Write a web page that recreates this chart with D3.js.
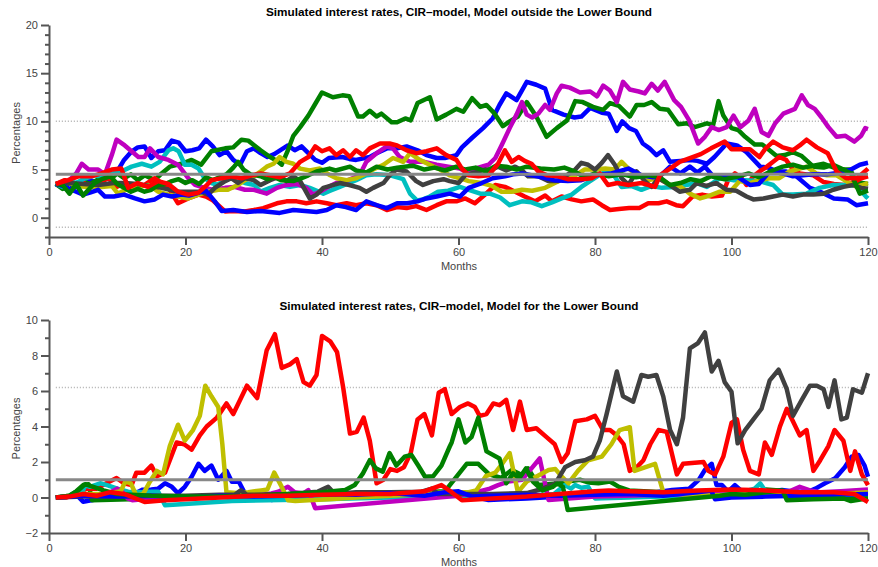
<!DOCTYPE html>
<html>
<head>
<meta charset="utf-8">
<title>Simulated interest rates, CIR-model</title>
<script src="https://d3js.org/d3.v7.min.js"></script>
<style>
body { margin: 0; background: #fff; font-family: "Liberation Sans", Arial, sans-serif; }
.axis path, .axis line { stroke: #555; stroke-width: 2; }
.axis text { fill: #444; font-size: 11px; font-family: "Liberation Sans", Arial, sans-serif; }
.title { font-size: 11px; font-weight: bold; fill: #000; }
.lbl { font-size: 11px; fill: #444; }
</style>
</head>
<body>
<script>
// ---- data: [month, percent] ----
// top panel: model outside the lower bound
var topBlueA = [[1,3.5],[2,3.1],[3,2.9],[4,3.6],[5,3.3],[6,3.9],[7,3.7],[8,4.3],[9,4.2],[10,4.8],[11,6.0],[12,6.8],[13,7.3],[14,7.4],[15,6.2],[16,6.9],[17,7.0],[18,8.0],[19,7.8],[20,6.9],[21,7.0],[22,7.2],[23,8.1],[24,7.4],[25,6.5],[26,6.9],[27,6.0],[28,5.5],[29,6.9],[30,7.2],[31,6.7],[32,6.3],[33,6.6],[35,7.5],[36,7.0],[37,7.4],[39,6.0],[40,5.7],[41,6.2],[43,6.3],[44,6.1],[45,6.0],[47,6.3],[48,6.7],[49.5,7.2],[51,7.2],[52.4,7.4],[54,7.0],[55.3,6.5],[56.8,6.2],[58,6.2],[59.7,6.5],[60.5,7.3],[62,8.3],[63.6,9.3],[65,10.3],[66,11.7],[67,12.9],[68.5,12.2],[70,14.1],[71.4,13.8],[72.7,13.4],[73.7,11.2],[75.4,10.7],[77,10.4],[78,10.5],[79.3,11.4],[81,10.9],[82,10.8],[83.2,9.0],[84,10.0],[85,9.3],[86,9.0],[87,7.7],[88,7.2],[89,6.5],[90,7.0],[91,5.8],[92.5,5.9],[94,6.0],[95,5.9],[96.4,5.6],[97.5,6.3],[99.3,7.7],[100.8,7.5],[102.2,6.8],[104.2,5.3],[105.4,5.2],[106.6,4.8],[108,4.8],[109.5,4.3],[111.5,3.1],[113,2.7],[115,2.0],[117,1.9],[118.3,1.3],[120,1.5]];
var topGreenA = [[1,3.5],[2,3.0],[3,3.6],[4,3.2],[5,3.8],[6,3.5],[7,3.9],[8,4.2],[9,4.0],[10,4.6],[11,4.1],[12,4.5],[13,3.9],[14,4.4],[15.5,3.9],[16.5,4.6],[17.7,5.3],[19.4,5.6],[20.9,6.0],[22.3,5.5],[23.8,6.9],[25.8,7.2],[27,7.3],[28.2,8.1],[29.2,8.0],[30.1,7.5],[31,7.0],[32.4,6.3],[33.4,5.9],[34.1,5.5],[35,7.0],[35.8,8.5],[36.8,9.4],[38,10.6],[39,11.8],[40,13.0],[41.6,12.5],[43,12.7],[44,12.6],[45.3,10.5],[46,10.5],[47,11.1],[48,10.5],[48.7,10.8],[50.2,9.9],[51,9.9],[52.2,10.3],[53,10.1],[54,11.9],[55.8,12.5],[56.8,10.2],[58.2,10.7],[59.7,11.3],[60.7,11.0],[62,12.4],[63.2,11.5],[64.1,11.7],[65.3,10.8],[66.5,9.5],[67.5,10.0],[68.7,10.5],[70,12.0],[71.4,10.5],[72.9,8.4],[74.4,9.3],[75.9,10.1],[77.1,12.1],[78.2,12.0],[79.7,11.5],[81.2,11.2],[82.2,11.9],[83.5,11.6],[85.1,10.5],[86.1,11.7],[87.2,11.7],[88.3,12.0],[89.5,11.3],[90.7,11.2],[92.2,9.7],[93.5,9.8],[94.6,9.4],[96.4,9.8],[97.3,9.6],[98.1,12.1],[98.8,10.6],[100,9.3],[101,9.1],[102,8.4],[103.4,7.6],[104.5,7.6],[105.4,7.1],[106.6,6.4],[107.8,6.5],[109,6.8],[110.3,6.4],[112,5.3],[113.5,5.2],[114.9,5.5],[116.4,5.0],[117.4,5.0],[118.3,3.7],[120,3.5]];
var topRedA = [[1,3.5],[2.3,3.9],[3.8,3.4],[5,3.7],[5.8,3.2],[7,3.5],[8.7,4.1],[9.9,3.2],[11,3.5],[12.5,3.0],[14,3.4],[15.5,4.1],[16.5,3.6],[17.5,3.1],[18.9,1.5],[20.4,2.0],[21.9,2.4],[23,2.2],[24,1.8],[24.8,1.3],[25.8,0.65],[27,0.7],[28.7,0.65],[30,0.8],[31.4,1.0],[33.4,1.5],[34.8,1.7],[36.3,1.7],[37.7,1.5],[39.2,1.7],[40.7,1.5],[42.1,1.3],[43.6,1.5],[45,1.3],[46.5,1.5],[48,1.3],[49.5,0.8],[51,1.1],[52.4,1.0],[53.8,1.2],[55.3,0.8],[56.8,1.3],[58.2,1.7],[59.7,1.7],[61,2.0],[62.4,1.5],[63.9,2.4],[65.4,3.4],[66.8,3.2],[68.3,2.7],[69.7,2.2],[71.2,1.7],[72.7,2.3],[73.7,1.7],[75.1,2.2],[76.6,1.9],[78,1.7],[79.7,1.9],[81,1.3],[82.2,0.8],[83.5,0.9],[85,1.0],[86.5,1.0],[87.8,1.5],[89.3,1.5],[90.5,1.7],[91.9,1.3],[92.9,1.2],[94.3,2.2],[95.7,2.4],[97.1,2.2],[98.6,2.3],[99.5,3.9],[100.5,4.6],[101.5,4.1],[102.2,3.4],[103.2,4.3],[104.1,4.8],[105,5.2],[106.1,5.8],[107,6.3],[108,6.0],[109,5.0],[110,4.6],[111,4.5],[112,4.4],[113.5,3.7],[115,3.5],[116.5,3.4],[118,3.7],[119,4.1],[120,4.3]];
var topCyan = [[1,3.5],[2,3.2],[3,3.8],[4,3.6],[5,4.0],[6.7,4.4],[8,4.2],[9.3,4.6],[10.6,4.8],[12.1,5.3],[13.6,5.6],[15,5.3],[16.2,5.8],[17.5,7.0],[18.2,7.2],[19,6.9],[19.9,5.5],[20.9,5.5],[21.9,5.1],[22.8,4.1],[23.8,3.6],[24.8,3.4],[25.8,4.1],[26.8,4.4],[27.7,3.9],[28.7,3.6],[30.1,3.4],[31,2.7],[32.4,3.1],[33.8,3.4],[35.3,3.2],[36.8,3.4],[38.2,3.1],[40.2,2.5],[41.2,2.8],[42.6,3.2],[44,3.6],[45,3.9],[46.5,4.4],[48,4.5],[50,4.4],[51.9,4.0],[52.9,2.5],[53.9,1.8],[54.8,1.9],[55.8,2.2],[57,2.7],[58.5,2.8],[60.2,3.2],[61.5,2.9],[63.2,2.5],[64.6,2.5],[66.1,2.1],[67.5,1.3],[69.3,1.7],[70.7,1.6],[72.2,1.2],[73.7,1.6],[75.1,2.0],[76.6,2.4],[78,3.2],[79.5,3.9],[81,4.6],[82.4,4.8],[83.9,3.2],[85.3,3.3],[86.8,2.9],[88.3,3.3],[89.8,3.1],[91.5,3.2],[93.4,3.4],[94.9,3.6],[96.4,3.2],[98.3,4.1],[100.2,3.9],[102,3.9],[104.1,3.8],[106.1,3.4],[107.5,2.4],[109,2.4],[111,2.5],[112.9,3.1],[114.9,3.4],[116.8,3.4],[118.3,3.3],[119.7,2.2],[120,2.0]];
var topMagenta = [[1,3.5],[2,3.6],[3,3.9],[4,4.6],[4.8,5.6],[5.8,5.0],[7.2,5.0],[8.2,4.5],[9.2,6.5],[9.9,8.1],[11.1,7.5],[12.1,6.9],[13.1,6.3],[14,6.3],[14.8,7.2],[16,6.3],[17.5,6.0],[18.9,5.5],[20.4,4.1],[21.4,3.4],[22.8,3.1],[24,2.9],[25.8,3.1],[27.2,3.2],[28.7,2.9],[30,2.9],[31.9,2.5],[33.4,3.1],[34.8,3.4],[36.3,3.5],[37.7,3.1],[38.7,2.4],[39.7,2.7],[40.7,3.1],[42.1,3.6],[43.5,3.8],[45.5,4.4],[46.5,5.8],[48,6.7],[49.5,7.4],[50.4,7.2],[51.4,6.3],[52.9,5.8],[55,5.8],[56.8,5.5],[58.5,5.3],[60.2,5.1],[61,4.8],[62.4,5.1],[64.4,5.5],[65.4,6.2],[66.3,7.5],[67.5,9.3],[68.5,10.7],[69.3,12.0],[70,10.7],[70.8,10.4],[71.7,10.8],[72.7,11.7],[73.4,11.2],[74.4,12.9],[75.1,13.7],[76.3,13.5],[77.8,13.0],[79.3,13.1],[80.3,12.6],[81.2,13.7],[82.2,13.2],[83.2,12.0],[84.1,14.1],[85.1,13.3],[86.4,13.1],[87.3,12.9],[88.3,13.9],[89.2,13.2],[90.2,14.1],[91.6,12.2],[92.6,11.5],[93.8,10.1],[95.1,7.7],[96.1,8.4],[97.1,9.4],[98.1,9.1],[99.3,9.4],[100.3,10.6],[101.3,9.4],[102.5,10.1],[103.4,11.3],[104.4,8.9],[105.4,8.5],[106.4,9.8],[107.6,10.8],[109.3,11.3],[110.3,12.7],[111.2,11.7],[112.2,11.3],[113.2,10.4],[114.2,9.4],[115.4,8.4],[116.7,8.5],[118,7.9],[119,8.5],[119.6,9.3],[120,9.2]];
var topYellow = [[1,3.5],[2.5,3.7],[4.2,3.3],[5.6,3.2],[7.7,3.2],[9.2,3.3],[10.1,2.5],[11.6,3.0],[13.1,3.2],[14.6,3.4],[16,2.7],[17.5,2.4],[18.9,2.2],[20.4,2.0],[21.9,2.4],[23.3,2.7],[24.8,2.9],[26.2,2.9],[27.7,3.4],[28.7,3.9],[30,4.3],[31,4.8],[31.9,5.3],[32.9,5.6],[33.8,6.3],[34.8,5.8],[35.8,5.6],[36.8,5.1],[38.2,4.9],[39.7,5.1],[41.2,4.4],[42.1,4.1],[43.6,3.9],[45,4.1],[46.5,4.6],[47.5,5.0],[49,5.5],[50.4,6.2],[51.9,5.8],[52.9,6.7],[54.3,6.0],[55.8,5.5],[57.3,5.0],[58.7,4.4],[60.2,4.1],[61.5,3.8],[63.4,3.6],[64.9,3.3],[66.3,2.7],[67.8,2.7],[69.3,2.9],[70.8,2.8],[72.7,3.1],[74.1,3.6],[75.6,4.1],[77.1,4.4],[78.5,5.0],[80,5.0],[81.5,5.1],[82.9,5.0],[83.9,5.8],[84.9,5.1],[86.3,4.4],[87.8,3.9],[89.3,4.1],[91,3.4],[92.4,3.3],[93.9,2.5],[95.4,2.0],[96.8,2.3],[98.3,2.7],[99.8,2.7],[101.2,3.8],[102.7,3.6],[104.1,3.9],[105.6,4.1],[107,4.1],[108.5,4.8],[110,5.1],[111,5.3],[112.4,4.6],[114,4.4],[115.4,4.4],[116.8,3.8],[118.3,3.2],[120,3.6]];
var topGrey = [[1,3.5],[3,3.6],[5,3.5],[7.2,3.4],[9.5,3.6],[11.1,3.6],[13,3.5],[14.6,3.3],[16.5,3.1],[17.7,2.9],[18.9,2.7],[20.5,2.7],[22.3,2.7],[23.3,2.4],[24.3,3.1],[25.8,3.8],[26.7,4.1],[27.7,3.6],[28.7,4.1],[30,3.9],[31,3.4],[32.4,3.9],[33.8,4.3],[34.8,3.8],[35.8,4.3],[36.8,3.8],[38.2,2.0],[39.2,2.4],[40.2,3.1],[41.2,3.3],[42.6,3.6],[44,3.4],[45.5,3.1],[46.5,2.7],[47.5,3.1],[49,3.6],[49.9,4.4],[50.9,5.0],[52.4,4.8],[53.8,3.8],[54.8,3.4],[56.3,3.8],[57.8,4.0],[58.7,3.8],[60,3.6],[61,4.4],[62.4,4.7],[63.9,5.0],[64.9,5.0],[65.8,5.3],[67,4.9],[68.3,5.3],[69.3,4.9],[70.2,4.3],[71.7,4.3],[73.2,3.8],[74.6,3.8],[75.6,4.3],[77.1,5.0],[78,5.7],[79,5.5],[80,5.0],[81,5.7],[81.9,6.5],[82.9,5.5],[83.9,4.1],[84.9,3.4],[86.1,4.8],[87.3,3.8],[88.3,3.2],[89.3,4.1],[90.5,3.6],[92.4,2.7],[93.9,2.9],[94.9,3.6],[96.3,3.3],[97.8,3.6],[99.3,2.9],[100.7,2.8],[102.2,2.2],[103.2,1.9],[104.7,2.0],[106.1,2.2],[107.5,2.4],[109,2.2],[110.5,2.4],[112,2.4],[113.5,2.5],[114.9,2.9],[116.4,3.2],[117.8,3.4],[119,3.1],[120,3.0]];
var topBlueB = [[1,3.5],[2,3.3],[3,3.0],[4,2.7],[5,2.4],[6,2.6],[7.2,2.9],[8.2,2.2],[9.5,2.2],[11,2.4],[12.6,2.0],[14,1.7],[15.5,1.9],[16.7,2.4],[18,2.2],[19.4,2.4],[20.5,2.3],[22,2.6],[23,2.8],[24.3,1.7],[25.3,0.7],[27,0.8],[29,0.6],[31,0.7],[33.8,0.5],[35.8,0.8],[37.5,0.7],[39.2,0.6],[40.7,0.8],[42.1,1.3],[43.5,1.1],[45,0.8],[46.5,1.7],[48,1.3],[49.5,1.0],[51,1.5],[52.5,1.5],[54,1.7],[55.3,2.0],[56.8,2.2],[58.7,2.5],[60.2,2.2],[61.5,3.1],[63.4,3.6],[65,4.1],[66.8,4.3],[68,4.5],[69.3,4.6],[71.5,4.3],[74,3.9],[76,3.8],[78,3.9],[80,4.4],[82.4,4.6],[84.9,5.1],[86.8,4.4],[88.5,4.2],[89.5,4.3],[91,5.3],[92.5,4.6],[93.9,5.3],[95,4.7],[96.1,5.3],[97.3,4.3],[99,4.3],[101,4.2],[102.7,3.4],[104,3.5],[105.6,4.8],[107,4.7],[109,4.3],[110.5,4.4],[112,4.5],[114,4.5],[116,4.7],[117.5,5.0],[118.8,5.5],[120,5.7]];
var topGreenB = [[1,3.5],[2,3.4],[3,2.5],[4,3.5],[5,2.3],[6.7,3.6],[7.7,4.0],[9,4.3],[10,3.5],[11,3.1],[12,2.7],[13,3.0],[14,2.7],[15,2.9],[16,3.4],[17,3.5],[18,3.8],[19,4.0],[20,3.6],[21,3.9],[22,3.5],[23,4.2],[24,3.9],[25,4.2],[26,4.5],[27,5.2],[27.7,5.8],[28.5,5.0],[29.5,4.5],[31,4.3],[32,4.0],[33,4.2],[34,3.9],[35.8,3.8],[37,4.1],[38,4.4],[39.2,4.8],[41.1,5.1],[42,4.9],[44.1,5.3],[45,4.9],[46.5,4.7],[48,5.3],[49.6,5.0],[51,5.2],[53.3,5.4],[55,5.0],[56.5,5.2],[58,4.9],[59.7,5.3],[61,5.0],[62.5,5.2],[64,4.8],[65.5,5.4],[67,5.3],[68.5,5.0],[70,5.3],[72,5.1],[74,5.0],[75.5,5.2],[77,4.8],[78.5,4.2],[80,4.6],[82,4.3],[84,4.5],[86,4.2],[88,4.4],[89.5,4.2],[91,3.4],[92.5,3.6],[94,4.0],[95.5,3.8],[97,4.3],[99,4.0],[101,4.3],[102.5,4.6],[104,4.2],[106,4.9],[107.5,5.3],[109,5.5],[110.5,5.2],[112,5.4],[113.5,5.6],[115,5.2],[116.4,5.0],[117.5,4.6],[118.8,2.5],[120,2.8]];
var topRedB = [[1,3.5],[2.8,3.9],[4.3,4.3],[6.2,4.3],[7.7,4.6],[9.2,5.0],[10.6,5.1],[11.6,3.1],[13,3.6],[14.5,3.2],[16,3.8],[17.5,3.5],[18.9,2.7],[20.4,2.4],[21.9,2.6],[23,3.3],[23.8,3.9],[25.3,4.1],[26.7,4.3],[28.2,4.1],[29.7,4.4],[31,4.6],[32.4,4.4],[33.8,4.2],[35.3,4.6],[36.8,5.8],[38,6.3],[39,7.4],[40,6.9],[41.1,7.2],[42.1,6.5],[43.1,7.0],[44.1,6.3],[45,7.0],[46,6.5],[47,7.2],[48.5,7.7],[49.9,7.7],[51,7.5],[52.4,7.0],[53.8,6.7],[55.3,6.9],[56.8,7.2],[58.2,6.5],[59.7,6.0],[60.5,5.1],[61.5,4.4],[62.9,4.3],[64.4,4.4],[65.8,5.6],[66.8,7.0],[67.8,5.8],[68.8,6.3],[69.7,5.9],[70.7,5.6],[71.7,4.8],[73,4.4],[74.6,4.3],[76,4.0],[78,4.0],[79.5,4.1],[80.7,4.6],[81.9,3.4],[83.3,3.6],[84.9,3.4],[86.8,3.6],[88.8,3.2],[89.5,4.4],[91,5.1],[92.4,5.8],[94,6.2],[95.5,6.6],[97,7.2],[99,7.9],[100,7.1],[101.5,7.1],[102.7,7.1],[104.1,6.3],[105,7.2],[106.1,7.9],[107.5,7.3],[109,7.0],[110,7.5],[111,8.1],[112.5,7.3],[114.1,6.7],[115.4,4.8],[116.8,4.1],[118.3,4.1],[119.2,4.6],[120,5.1]];

// bottom panel: model for the lower bound
var botBlueA = [[1,0],[3,0.05],[4.3,0.05],[5,-0.24],[7,-0.1],[9.5,-0.05],[12,0.1],[13.6,0.43],[15,0.45],[16,0.5],[17,0.8],[18,0.6],[18.9,0.24],[19.9,0.6],[20.9,1.17],[21.9,1.9],[22.8,1.5],[23.8,1.8],[24.8,1.0],[26,1.5],[26.8,0.89],[27.8,0.9],[28.7,0.24],[30.6,0.15],[32.6,-0.14],[34,-0.05],[40,0],[45,0.05],[50,0.1],[55,0.1],[60,0.1],[62,0.05],[64.4,-0.14],[70,-0.05],[75,0.05],[80,0.2],[82.9,0.23],[86,0.3],[89,0.3],[91.3,0.42],[93.8,0.5],[95.2,0.99],[96.1,1.55],[97.1,1.9],[97.8,0.7],[98.6,0.7],[99.5,0.33],[100.5,0.7],[101.5,0.35],[102.4,0.14],[103.5,0.33],[105.5,0.33],[107.4,0.42],[109.4,0.33],[111.3,0.33],[112.3,0.5],[113.7,0.8],[115.2,1.08],[116.6,1.7],[117.6,2.3],[118.6,2.4],[119.5,1.8],[120,1.17]];
var botGreenA = [[1,0],[3,0.1],[4,0.35],[5,0.7],[5.8,0.75],[6.3,-0.15],[27,0.05],[28.5,0.1],[32,0.05],[36,0.15],[40,0.2],[45,0.15],[50,0.2],[55,0.3],[58,0.35],[61.2,1.9],[62.9,1.9],[64.5,1.3],[66.3,1.1],[67.8,1.55],[69.3,1.27],[70.2,1.64],[71.7,0.7],[73.2,0.75],[74.7,0.8],[76,0.9],[77.8,1.0],[79,0.85],[80.5,0.8],[82.2,0.9],[83.5,0.6],[85,0.4],[90,0.3],[95,0.25],[100,0.3],[103,0.35],[105,0.45],[107,0.4],[108.5,0.1],[112,0.05],[116,0.1],[118,-0.05],[120,0]];
var botRedA = [[1,0],[2.6,0],[4.1,0.23],[5.5,0.5],[7,0.5],[8.4,0.8],[9.9,1.1],[11,0.8],[12.1,0.7],[12.8,1.4],[14,1.4],[15,1.8],[15.8,1.2],[17,1.4],[18.7,3.1],[19.8,3.0],[20.9,2.7],[22.1,3.5],[23.1,4.0],[24.6,4.5],[26,5.3],[27,4.7],[29,6.3],[30.5,5.6],[31.9,8.3],[33.1,9.2],[34.1,7.3],[35.3,7.5],[36.3,7.8],[37.3,6.5],[38.2,6.3],[39.2,6.9],[40,9.1],[41.2,8.8],[42.2,8.2],[43.1,6.2],[44.1,3.6],[45.1,3.7],[46.1,4.5],[47,3.2],[48,0.8],[49,1.0],[50,1.6],[51,1.5],[52,1.7],[53,2.5],[54,4.4],[55,4.7],[56.1,3.5],[57.1,5.9],[58,6.1],[59,4.7],[60.2,5.1],[61.4,5.3],[62.4,5.1],[63.1,4.6],[64.1,4.7],[65.1,5.3],[66,5.2],[67,5.5],[68,3.8],[69,5.4],[70,3.8],[71.4,3.9],[72.9,3.4],[74.1,3.0],[75.1,2.0],[76,2.5],[77.1,4.3],[78.8,4.4],[80,4.6],[81.2,3.8],[82.2,3.8],[83.2,3.5],[84.2,3.0],[85.1,1.5],[86.1,1.7],[87.1,2.1],[88.1,3.0],[89.3,3.8],[90.5,3.7],[92,1.3],[92.9,1.9],[95.9,2.0],[96.6,1.5],[97.6,1.3],[98.8,2.3],[100,4.2],[100.8,4.4],[101.7,2.7],[102.7,1.5],[104,1.3],[104.9,3.1],[105.9,2.4],[107.1,4.0],[108.1,5.0],[109,4.3],[110,3.5],[111,3.8],[112,1.5],[113,2.1],[114.2,2.9],[115.1,3.8],[116.4,3.2],[117.4,1.5],[118.1,2.6],[119.1,1.3],[120,0.7]];
var botCyan = [[1,0],[3,0.05],[4,0.3],[5,0.4],[5.3,0.7],[6,0.6],[7.5,0.8],[8.5,0.7],[10,0.5],[11.6,0.33],[13.5,0.3],[15,0.33],[16,0.33],[17,-0.43],[26.8,-0.2],[40,-0.1],[50,0],[55,0.05],[60,0.1],[62,0.1],[65,0.05],[70,0.1],[74,0.2],[75.6,0.7],[76.5,0.5],[77.1,0.7],[78,0.55],[79,0.6],[80,-0.05],[85,0],[90,0.05],[95,0.1],[100,0.15],[103.4,0.5],[104.2,0.8],[105,0.35],[106,0.15],[110,0.1],[115,0.15],[120,0.2]];
var botMagenta = [[1,0],[3,0.05],[5,0.1],[7,0.15],[9,0.3],[10,0.5],[10.7,0.33],[11.5,-0.05],[12.2,-0.15],[15,-0.05],[20,0],[25,0.05],[30,0.1],[32.6,0.23],[33.6,0.33],[35,0.6],[36,0.3],[37.3,0.23],[38,0.42],[39,-0.6],[60,0.1],[62.6,0.3],[64.6,0.5],[65.8,0.7],[67.3,0.9],[69.3,1.0],[70.7,1.64],[71.9,2.2],[73.2,-0.14],[80,0.05],[90,0.15],[100,0.25],[107.1,0.33],[108.5,0.35],[110,0.6],[111.5,0.4],[113,0.3],[116,0.35],[120,0.45]];
var botYellow = [[1,0],[3,0.05],[5,0.2],[7.8,0.2],[9.7,0.3],[10.5,0.35],[11.2,0.9],[12,0.8],[12.8,0.1],[13.8,0.2],[14.8,0.9],[15.8,1.5],[16.7,1.3],[17.7,2.9],[18.9,4.1],[19.9,3.2],[21.1,3.8],[22.1,4.6],[22.9,6.3],[23.8,5.7],[24.8,5.1],[25.4,3.0],[26,0.3],[27.5,0.25],[29.2,0.3],[31.1,0.4],[32,0.45],[33,1.4],[34.1,0.6],[35,-0.15],[36.1,-0.2],[38,-0.15],[41,-0.1],[45,0],[50,0.1],[55,0.2],[57.9,0.3],[61.5,0.3],[62.6,0.4],[64,1.2],[65.4,1.4],[66.4,1.9],[67.5,2.5],[68.7,0.3],[70,0.9],[71.5,1.2],[73.2,1.55],[74.2,1.6],[75.1,1.2],[76.1,0.8],[77.5,1.5],[79,2.1],[81,2.3],[82.4,3.0],[83.6,3.8],[85.1,3.96],[85.8,1.5],[87.3,1.7],[88.8,1.9],[90,0.3],[95,0.1],[100,0.15],[105,0.2],[110,0.25],[115,0.2],[118,0.25],[120,0.3]];
var botGrey = [[1,0],[5,0.05],[10,0.05],[15,0.1],[20,0.1],[25,0.15],[27.2,0.15],[28.1,0.4],[29,0.15],[35,0.2],[39.4,0.33],[40.9,0.6],[41.9,0.2],[45,0.3],[50,0.3],[54.6,0.33],[56.1,0.5],[57,0.2],[60,0.2],[65,0.2],[70,0.25],[71.7,0.42],[73,0.6],[74.2,0.79],[75.6,1.7],[77.1,2.0],[78.5,2.1],[79.7,2.3],[80.7,3.2],[81.7,4.7],[83.2,7.1],[84.1,5.7],[85.6,5.4],[86.8,6.9],[87.8,6.8],[89,6.9],[90,5.7],[91,3.8],[92,3.0],[92.9,4.5],[93.9,8.4],[95.1,8.7],[96.1,9.3],[97.1,7.1],[98.1,7.7],[99,6.5],[100,5.96],[100.9,3.05],[102,3.8],[103.2,4.4],[104.4,5.0],[105.6,6.6],[106.9,7.2],[108.1,6.1],[109,4.6],[110.3,5.5],[111.5,6.3],[112.5,6.3],[113.5,6.1],[114.2,5.1],[115.1,6.6],[116.1,4.4],[116.9,4.5],[117.8,6.1],[119.1,5.9],[120,7.0]];
var botBlueB = [[1,0],[5,0.1],[10,0.05],[15,0.1],[20,0],[25,0.1],[30,0.05],[35,0.1],[40,0.2],[45,0.15],[50,0.25],[55,0.1],[58,0.3],[60,0.35],[62,0.05],[65,0.1],[70,0.15],[75,0.1],[80,0.15],[85,0.2],[90,0.1],[95,0.3],[97,0.4],[97.6,-0.1],[100,0],[105,0.05],[110,0.1],[115,0.15],[120,0.2]];
var botGreenB = [[1,0],[3,0.1],[4.3,0.4],[5.3,0.75],[6.5,0.6],[8,0.4],[10,0.2],[15,0.1],[20,0.05],[25,0.05],[30,0.1],[35,0.2],[40,0.3],[43.4,0.42],[44.8,0.7],[46,1.36],[47,2.1],[47.9,1.64],[48.9,1.45],[49.9,2.5],[50.9,1.8],[52.1,2.3],[53.1,2.4],[54.1,1.8],[55.1,1.17],[56.3,1.2],[57.5,1.8],[58.7,2.86],[59,3.1],[60,4.4],[61,3.1],[61.9,3.4],[62.9,4.5],[64.1,2.6],[66,2.2],[67,0.8],[68,1.36],[68.9,1.08],[69.9,1.64],[70.9,0.9],[72.3,0.4],[73.8,0.6],[74.5,0.8],[75.3,0.6],[76,-0.7],[98.3,0.1],[100,0.2],[102,0.15],[105,0.3],[107.5,0.4],[108.1,-0.15],[112,-0.1],[116.4,-0.05],[117.5,-0.2],[120,-0.05]];
var botRedB = [[1,0],[3,0.05],[5,0.2],[7,0.1],[9,0.3],[11,0.2],[13,-0.1],[14,-0.25],[17,-0.15],[20,-0.1],[25,0],[30,0.1],[35,0.1],[40,0.15],[45,0.2],[50,0.2],[55,0.35],[57.5,0.7],[59,0.3],[60.5,-0.15],[70,0.05],[80,0.35],[82,0.4],[85,0.35],[90,0.3],[95,0.4],[100,0.45],[105,0.4],[110,0.3],[115,0.3],[118,0.2],[120,-0.25]];

var seriesColors = ["#0000ff","#008000","#ff0000","#00bfbf","#bf00bf","#bfbf00","#404040","#0000ff","#008000","#ff0000"];
var topSeries = [topBlueA, topGreenA, topRedA, topCyan, topMagenta, topYellow, topGrey, topBlueB, topGreenB, topRedB];
var botSeries = [botBlueA, botGreenA, botRedA, botCyan, botMagenta, botYellow, botGrey, botBlueB, botGreenB, botRedB];

var xTicks = [0, 20, 40, 60, 80, 100, 120];
var topYTicks = [0, 5, 10, 15, 20];
var botYTicks = [-2, 0, 2, 4, 6, 8, 10];
var topRef = 4.5, topBands = [10, -1];
var botRef = 1.0, botBands = [6.2];

var width = 878, height = 567;
var svg = d3.select("body").append("svg").attr("width", width).attr("height", height);

function drawPanel(p) {
  var g = svg.append("g");
  var x = d3.scaleLinear().domain([0, 120]).range([49, 868]);
  var y = d3.scaleLinear().domain(p.yDomain).range([p.bottom, p.top]);

  // dotted band lines
  p.bands.forEach(function(b) {
    g.append("line")
      .attr("x1", x(1)).attr("x2", x(120))
      .attr("y1", y(b)).attr("y2", y(b))
      .attr("stroke", "#b0b0b0").attr("stroke-width", 1.5)
      .attr("stroke-dasharray", "1,2");
  });

  var line = d3.line().x(function(d) { return x(d[0]); }).y(function(d) { return y(d[1]); });
  g.selectAll("path.sim")
    .data(p.series)
    .enter().append("path")
    .attr("class", "sim")
    .attr("fill", "none")
    .attr("stroke", function(d, i) { return seriesColors[i]; })
    .attr("stroke-width", 4.5)
    .attr("stroke-linejoin", "round")
    .attr("d", line);

  // reference level
  g.append("line")
    .attr("x1", x(1)).attr("x2", x(120))
    .attr("y1", y(p.ref)).attr("y2", y(p.ref))
    .attr("stroke", "#888").attr("stroke-width", 3);

  // axes
  g.append("g").attr("class", "axis")
    .attr("transform", "translate(0," + p.bottom + ")")
    .call(d3.axisBottom(x).tickValues(xTicks).tickSize(8).tickSizeOuter(0).tickPadding(3));

  var minor = d3.range(p.yDomain[0], p.yDomain[1] + 1).filter(function(v) { return p.yTicks.indexOf(v) < 0; });
  g.append("g").attr("class", "axis")
    .attr("transform", "translate(49,0)")
    .call(d3.axisLeft(y).tickValues(minor).tickSize(4).tickFormat(""))
    .select(".domain").remove();
  g.append("g").attr("class", "axis")
    .attr("transform", "translate(49,0)")
    .call(d3.axisLeft(y).tickValues(p.yTicks).tickSize(8).tickSizeOuter(0).tickPadding(3));

  g.append("text").attr("class", "title")
    .attr("x", 459).attr("y", p.titleY)
    .attr("text-anchor", "middle")
    .attr("textLength", p.titleLen).attr("lengthAdjust", "spacingAndGlyphs")
    .text(p.title);

  g.append("text").attr("class", "lbl")
    .attr("x", 459).attr("y", p.bottom + 33)
    .attr("text-anchor", "middle")
    .text("Months");

  g.append("text").attr("class", "lbl")
    .attr("transform", "translate(20," + ((p.top + p.bottom) / 2 + 2) + ") rotate(-90)")
    .attr("text-anchor", "middle")
    .text("Percentages");
}

drawPanel({
  series: topSeries, yDomain: [-2, 20], top: 25, bottom: 237,
  yTicks: topYTicks, ref: topRef, bands: topBands,
  title: "Simulated interest rates, CIR\u2013model, Model outside the Lower Bound",
  titleY: 16, titleLen: 386
});
drawPanel({
  series: botSeries, yDomain: [-2, 10], top: 320, bottom: 533,
  yTicks: botYTicks, ref: botRef, bands: botBands,
  title: "Simulated interest rates, CIR\u2013model, Model for the Lower Bound",
  titleY: 310, titleLen: 359
});
</script>
</body>
</html>
